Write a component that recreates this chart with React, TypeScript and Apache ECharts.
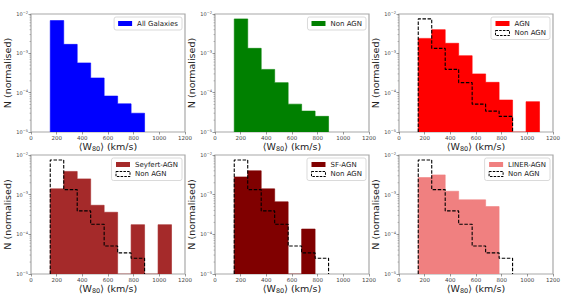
import React, { useEffect, useRef } from 'react';
import * as echarts from 'echarts';

// Bin edges (km/s)
const EDGES = [150, 255, 360, 465, 570, 675, 780, 885, 990, 1095];
// Normalised counts per bin (0 = empty bin)
const ALL_GALAXIES = [6.8e-3, 1.69e-3, 5.7e-4, 2.36e-4, 8.2e-5, 5.2e-5, 3.0e-5, 0, 0];
const NON_AGN = [7.5e-3, 1.34e-3, 3.9e-4, 1.8e-4, 5.1e-5, 3.4e-5, 2.5e-5, 0, 0];
const AGN = [2.4e-3, 4.0e-3, 1.8e-3, 8.7e-4, 3.0e-4, 1.83e-4, 6.5e-5, 0, 5.9e-5];
const SEYFERT_AGN = [1.4e-3, 3.85e-3, 2.5e-3, 5.4e-4, 3.6e-4, 0, 1.75e-4, 0, 1.75e-4];
const SF_AGN = [2.8e-3, 4.0e-3, 1.4e-3, 6.6e-4, 0, 1.36e-4, 0, 0, 0];
const LINER_AGN = [2.7e-3, 3.15e-3, 1.22e-3, 7.4e-4, 7.4e-4, 5.0e-4, 0, 0, 0];

const X_MIN = 0;
const X_MAX = 1200;
const X_INTERVAL = 200;
const Y_MIN = 1e-5;
const Y_MAX = 1e-2;
const MINOR_TICKS: number[] = [];
[1e-5, 1e-4, 1e-3].forEach((d) => [2, 3, 4, 5, 6, 7, 8, 9].forEach((m) => MINOR_TICKS.push(m * d)));

const PANELS = [
  { label: 'All Galaxies', values: ALL_GALAXIES, color: '#0000ff', overlay: false },
  { label: 'Non AGN', values: NON_AGN, color: '#008000', overlay: false },
  { label: 'AGN', values: AGN, color: '#ff0000', overlay: true },
  { label: 'Seyfert-AGN', values: SEYFERT_AGN, color: '#a52a2a', overlay: true },
  { label: 'SF-AGN', values: SF_AGN, color: '#800000', overlay: true },
  { label: 'LINER-AGN', values: LINER_AGN, color: '#f08080', overlay: true },
];

const W = 568;
const H = 298;
const COL_LEFT = [31, 215, 399];
const ROW_TOP = [14, 155];
const GRID_W = 154;
const ROW_H = [118, 119];
const FONT = 'DejaVu Sans';

// Step outline of a histogram (goes down to the axis minimum for empty bins)
function stepPoints(values: number[]) {
  const pts: number[][] = [[EDGES[0], Y_MIN]];
  let last = values.length - 1;
  while (last > 0 && values[last] === 0) last--;
  for (let i = 0; i <= last; i++) {
    const v = values[i] > 0 ? values[i] : Y_MIN;
    pts.push([EDGES[i], v]);
    pts.push([EDGES[i + 1], v]);
  }
  pts.push([EDGES[last + 1], Y_MIN]);
  return pts;
}

export default function App() {
  const ref = useRef<HTMLDivElement>(null);
  useEffect(() => {
    if (!ref.current) return;
    const chart = echarts.init(ref.current, undefined, { renderer: 'svg' });
    const grids: any[] = [];
    const xAxes: any[] = [];
    const yAxes: any[] = [];
    const series: any[] = [];
    const legends: any[] = [];
    PANELS.forEach((p, i) => {
      const col = i % 3;
      const row = Math.floor(i / 3);
      const left = COL_LEFT[col];
      const top = ROW_TOP[row];
      grids.push({
        left, top, width: GRID_W, height: ROW_H[row],
        show: true, borderColor: '#a8a8a8', borderWidth: 1.2, backgroundColor: '#fff',
      });
      xAxes.push({
        type: 'value', gridIndex: i, min: X_MIN, max: X_MAX, interval: X_INTERVAL,
        axisLine: { show: false },
        axisTick: { show: true, length: 2.5, lineStyle: { color: '#555', width: 0.6 } },
        splitLine: { show: false },
        axisLabel: { fontSize: 5.5, color: '#444', fontFamily: FONT, margin: 3, formatter: (v: number) => String(v) },
        name: '⟨W{sub|80}⟩ (km/s)',
        nameLocation: 'middle',
        nameGap: 7.5,
        nameTextStyle: {
          fontSize: 9.5, color: '#222', fontFamily: FONT,
          rich: { sub: { fontSize: 6.5, color: '#222', fontFamily: FONT, padding: [5, 0, 0, 0] } },
        },
      });
      yAxes.push({
        type: 'log', logBase: 10, gridIndex: i, min: Y_MIN, max: Y_MAX,
        axisLine: { show: false },
        axisTick: { show: true, length: 2.5, lineStyle: { color: '#555', width: 0.6 } },
        splitLine: { show: false },
        axisLabel: {
          margin: 3,
          formatter: (v: number) => `{b|10}{s|−${Math.round(-Math.log10(v))}}`,
          rich: {
            b: { fontSize: 5, color: '#444', fontFamily: FONT },
            s: { fontSize: 3.6, color: '#444', fontFamily: FONT, verticalAlign: 'top', padding: [0, 0, 3, 0] },
          },
        },
        name: 'N (normalised)',
        nameLocation: 'middle',
        nameRotate: 90,
        nameGap: 15,
        nameTextStyle: { fontSize: 9.5, color: '#222', fontFamily: FONT },
      });
      series.push({
        name: p.label,
        type: 'line',
        xAxisIndex: i, yAxisIndex: i,
        data: stepPoints(p.values),
        showSymbol: false, symbol: 'none',
        lineStyle: { width: 0.6, color: p.color },
        itemStyle: { color: p.color },
        areaStyle: { color: p.color, opacity: 1, origin: 'start' },
        z: 2,
      });
      if (p.overlay) {
        series.push({
          name: 'Non AGN',
          type: 'line',
          xAxisIndex: i, yAxisIndex: i,
          data: stepPoints(NON_AGN),
          showSymbol: false, symbol: 'none',
          lineStyle: { color: '#000', width: 1.1, type: [3.5, 1.6] },
          itemStyle: { color: '#000' },
          z: 5,
        });
      }
      series.push({
        type: 'custom',
        xAxisIndex: i, yAxisIndex: i,
        data: MINOR_TICKS.map((m) => [X_MIN, m]),
        silent: true,
        clip: false,
        renderItem: (params: any, api: any) => {
          const c = api.coord([api.value(0), api.value(1)]);
          return {
            type: 'line',
            shape: { x1: c[0] - 1.5, y1: c[1], x2: c[0], y2: c[1] },
            style: { stroke: '#666', lineWidth: 0.4 },
          };
        },
      });
      const legendData: any[] = [{ name: p.label, icon: 'rect', itemStyle: { color: p.color, borderWidth: 0 } }];
      if (p.overlay) {
        legendData.push({
          name: 'Non AGN', icon: 'rect',
          itemStyle: { color: 'rgba(0,0,0,0)', borderColor: '#000', borderWidth: 1, borderType: [2.5, 1.2] },
        });
      }
      legends.push({
        data: legendData,
        orient: 'vertical',
        right: W - (left + GRID_W - 3),
        top: top + 3,
        itemWidth: 14,
        itemHeight: 5,
        itemGap: 2.5,
        padding: [3, 4, 3, 4],
        backgroundColor: '#fff',
        borderColor: '#d0d0d0',
        borderWidth: 0.8,
        borderRadius: 2,
        selectedMode: false,
        textStyle: { fontSize: 7, color: '#222', fontFamily: FONT },
      });
    });
    chart.setOption({
      animation: false,
      backgroundColor: '#fff',
      grid: grids,
      xAxis: xAxes,
      yAxis: yAxes,
      series,
      legend: legends,
    });
    return () => chart.dispose();
  }, []);
  return <div ref={ref} style={{ position: 'fixed', left: 0, top: 0, width: W, height: H }} />;
}
